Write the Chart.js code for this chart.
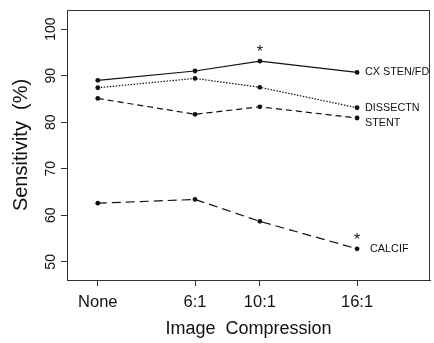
<!DOCTYPE html>
<html><head><meta charset="utf-8">
<script src="https://cdn.jsdelivr.net/npm/chart.js@4/dist/chart.umd.min.js"></script>
<style>html,body{margin:0;padding:0;background:#fff}#wrap{width:434px;height:343px;position:relative}</style>
</head><body><div id="wrap"><canvas id="c"></canvas></div>
<script>
const categories = ['None', '6:1', '10:1', '16:1'];
const compressionRatio = [0, 6, 10, 16];
const cxStenFd = [89.0, 91.0, 93.1, 90.7];
const dissectn = [87.4, 89.4, 87.5, 83.1];
const stent = [85.1, 81.7, 83.3, 80.9];
const calcif = [62.6, 63.4, 58.7, 52.8];
const seriesNames = ['CX STEN/FD', 'DISSECTN', 'STENT', 'CALCIF'];
const yTickValues = [50, 60, 70, 80, 90, 100];
const significant = [{ series: 0, index: 2 }, { series: 3, index: 3 }];

const FONT = '"Liberation Sans", Arial, Helvetica, sans-serif';
const allSeries = [cxStenFd, dissectn, stent, calcif];
const dashes = [[], [1.5, 1.5], [6, 4], [9, 5]];
const labelStyle = [{ dx: 8, dy: 0 }, { dx: 8, dy: 0 }, { dx: 8, dy: 5 }, { dx: 13, dy: 0 }];

const datasets = allSeries.map((vals, i) => ({
  label: seriesNames[i],
  data: vals.map((v, j) => ({ x: compressionRatio[j], y: v })),
  borderColor: '#111',
  backgroundColor: '#111',
  borderWidth: 1.2,
  borderDash: dashes[i],
  pointRadius: 2.4,
  pointBackgroundColor: '#111',
  pointBorderWidth: 0,
  tension: 0,
  fill: false
}));

const decor = {
  id: 'decor',
  afterDraw(chart) {
    const ctx = chart.ctx, a = chart.chartArea, xs = chart.scales.x, ys = chart.scales.y;
    ctx.save();
    ctx.strokeStyle = '#333';
    ctx.lineWidth = 1;
    ctx.beginPath();
    ctx.moveTo(a.left, a.top + 0.5);
    ctx.lineTo(a.right - 0.5, a.top + 0.5);
    ctx.lineTo(a.right - 0.5, a.bottom);
    ctx.stroke();

    ctx.fillStyle = '#111';
    ctx.font = '14px ' + FONT;
    ctx.textAlign = 'center';
    ctx.textBaseline = 'middle';
    ys.ticks.forEach(t => {
      const y = ys.getPixelForValue(t.value);
      ctx.save();
      ctx.translate(51, y);
      ctx.rotate(-Math.PI / 2);
      ctx.fillText(String(t.value), 0, 0);
      ctx.restore();
    });

    ctx.font = '10.8px ' + FONT;
    ctx.textAlign = 'left';
    ctx.textBaseline = 'middle';
    allSeries.forEach((vals, i) => {
      const last = vals.length - 1;
      const x = xs.getPixelForValue(compressionRatio[last]);
      const y = ys.getPixelForValue(vals[last]);
      ctx.fillText(seriesNames[i], x + labelStyle[i].dx, y + labelStyle[i].dy);
    });

    ctx.font = '16px ' + FONT;
    ctx.textAlign = 'center';
    ctx.textBaseline = 'alphabetic';
    significant.forEach(s => {
      const x = xs.getPixelForValue(compressionRatio[s.index]);
      const y = ys.getPixelForValue(allSeries[s.series][s.index]);
      ctx.fillText('*', x, y - 4);
    });
    ctx.restore();
  }
};

new Chart(document.getElementById('c'), {
  type: 'line',
  data: { datasets },
  plugins: [decor],
  options: {
    responsive: true,
    maintainAspectRatio: false,
    animation: false,
    layout: { padding: { top: 10, right: 2, left: 0, bottom: 0 } },
    plugins: { legend: { display: false }, tooltip: { enabled: false } },
    scales: {
      x: {
        type: 'linear',
        min: -1.9,
        max: 20.5,
        afterBuildTicks: s => { s.ticks = compressionRatio.map(v => ({ value: v })); },
        afterFit: s => { s.height = 63; },
        ticks: {
          color: '#111',
          font: { family: FONT, size: 16.5 },
          padding: 7,
          maxRotation: 0,
          callback: v => { const k = compressionRatio.indexOf(v); return k >= 0 ? categories[k] : ''; }
        },
        grid: { drawOnChartArea: false, drawTicks: true, tickLength: 6, color: '#333' },
        border: { color: '#333', width: 1 },
        title: { display: true, text: 'Image  Compression', color: '#111', font: { family: FONT, size: 18 }, padding: { top: 0, bottom: 3 } }
      },
      y: {
        type: 'linear',
        min: 46.1,
        max: 104.1,
        afterBuildTicks: s => { s.ticks = yTickValues.map(v => ({ value: v })); },
        afterFit: s => { s.width = 67; },
        ticks: { display: false },
        grid: { drawOnChartArea: false, drawTicks: true, tickLength: 6, color: '#333' },
        border: { color: '#333', width: 1 },
        title: { display: true, text: 'Sensitivity  (%)', color: '#111', font: { family: FONT, size: 20 }, padding: { top: 9, bottom: 0 } }
      }
    }
  }
});
</script>
</body></html>
